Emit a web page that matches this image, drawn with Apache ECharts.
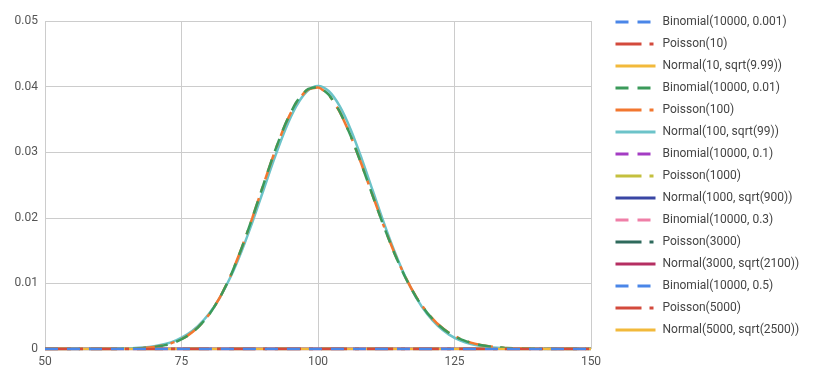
<!DOCTYPE html>
<html>
<head>
<meta charset="utf-8">
<script src="https://cdn.jsdelivr.net/npm/echarts@6/dist/echarts.min.js"></script>
<style>
html,body{margin:0;padding:0;background:#fff;}
#chart{width:814px;height:385px;}
</style>
</head>
<body>
<div id="chart"></div>
<script>
// x positions (even integers 50..150)
const xValues = [50,52,54,56,58,60,62,64,66,68,70,72,74,76,78,80,82,84,86,88,90,92,94,96,98,100,102,104,106,108,110,112,114,116,118,120,122,124,126,128,130,132,134,136,138,140,142,144,146,148,150];

// curves centred on 100
const binomial100 = [0,0,0,0,0,0.00001,0.00001,0.00003,0.00006,0.00014,0.00030,0.00059,0.00110,0.00194,0.00326,0.00516,0.00779,0.01119,0.01535,0.02006,0.02506,0.02995,0.03426,0.03757,0.03952,0.03992,0.03874,0.03616,0.03246,0.02806,0.02338,0.01879,0.01457,0.01090,0.00788,0.00551,0.00372,0.00243,0.00154,0.00094,0.00056,0.00032,0.00018,0.00010,0.00005,0.00002,0.00001,0,0,0,0];
const poisson100 = [0,0,0,0,0,0.00001,0.00001,0.00003,0.00007,0.00015,0.00031,0.00061,0.00113,0.00197,0.00329,0.00520,0.00783,0.01122,0.01536,0.02006,0.02504,0.02991,0.03421,0.03751,0.03946,0.03986,0.03869,0.03612,0.03245,0.02808,0.02342,0.01884,0.01463,0.01096,0.00794,0.00556,0.00377,0.00247,0.00157,0.00097,0.00058,0.00033,0.00019,0.00010,0.00005,0.00003,0.00001,0.00001,0,0,0];
const normal100 = [0,0,0,0,0.00001,0.00001,0.00003,0.00006,0.00012,0.00023,0.00043,0.00076,0.00132,0.00219,0.00348,0.00532,0.00781,0.01100,0.01490,0.01938,0.02420,0.02902,0.03343,0.03698,0.03929,0.04010,0.03929,0.03698,0.03343,0.02902,0.02420,0.01938,0.01490,0.01100,0.00781,0.00532,0.00348,0.00219,0.00132,0.00076,0.00043,0.00023,0.00012,0.00006,0.00003,0.00001,0.00001,0,0,0,0];
// all other distributions are flat at zero over this range
const flatZero = [0,0,0,0,0,0,0,0,0,0,0,0,0,0,0,0,0,0,0,0,0,0,0,0,0,0,0,0,0,0,0,0,0,0,0,0,0,0,0,0,0,0,0,0,0,0,0,0,0,0,0];

const seriesNames = ['Binomial(10000, 0.001)','Poisson(10)','Normal(10, sqrt(9.99))','Binomial(10000, 0.01)','Poisson(100)','Normal(100, sqrt(99))','Binomial(10000, 0.1)','Poisson(1000)','Normal(1000, sqrt(900))','Binomial(10000, 0.3)','Poisson(3000)','Normal(3000, sqrt(2100))','Binomial(10000, 0.5)','Poisson(5000)','Normal(5000, sqrt(2500))'];
const seriesValues = [flatZero,flatZero,flatZero,binomial100,poisson100,normal100,flatZero,flatZero,flatZero,flatZero,flatZero,flatZero,flatZero,flatZero,flatZero];
const seriesColors = ['#4a86e8','#d34a3c','#f2b93b','#3b9a5a','#f2772f','#6cc3c9','#a43cc3','#c4c03e','#3946a4','#ef7fa7','#2e6a5c','#b52e62','#4a86e8','#d34a3c','#f2b93b'];
const yTicks = [0,0.01,0.02,0.03,0.04,0.05];
const xTicks = [50,75,100,125,150];

const dashBinomial = [13,9];
const dashPoisson = [26,8,4,8];

const chart = echarts.init(document.getElementById('chart'), null, {renderer:'canvas'});
const series = seriesNames.map((name,i)=>{
  const kind = i % 3;
  return {
    name: name,
    type: 'line',
    data: xValues.map((x,j)=>[x, seriesValues[i][j]]),
    symbol: 'none',
    smooth: kind === 2 ? 0.3 : 0.2,
    z: 40 - i,
    lineStyle: {
      color: seriesColors[i],
      width: 2.5,
      type: kind === 0 ? dashBinomial : (kind === 1 ? dashPoisson : 'solid'),
      cap: 'butt'
    },
    itemStyle: {color: seriesColors[i]},
    emphasis: {disabled: true},
    animation: false
  };
});

chart.setOption({
  animation: false,
  textStyle: {fontFamily: 'Roboto, Arial, sans-serif'},
  grid: {left: 45, right: 223, top: 21, bottom: 36, containLabel: false},
  legend: {
    orient: 'vertical',
    left: 609,
    top: 11,
    itemWidth: 40,
    itemHeight: 12,
    itemGap: 10,
    itemStyle: {opacity: 0},
    lineStyle: {width: 3},
    textStyle: {fontSize: 12, color: '#444', fontFamily: 'Roboto, Arial, sans-serif', padding: [0,0,0,2]},
    data: seriesNames,
    selectedMode: false
  },
  xAxis: {
    type: 'value',
    min: xTicks[0],
    max: xTicks[xTicks.length-1],
    interval: 25,
    axisLine: {show: false},
    axisTick: {show: false},
    splitLine: {show: true, lineStyle: {color: '#cccccc', width: 1}},
    axisLabel: {color: '#555', fontSize: 12, margin: 7, formatter: v => xTicks.includes(v) ? String(v) : ''}
  },
  yAxis: {
    type: 'value',
    min: yTicks[0],
    max: yTicks[yTicks.length-1],
    interval: 0.01,
    axisLine: {show: false},
    axisTick: {show: false},
    splitLine: {show: true, lineStyle: {color: '#cccccc', width: 1}},
    axisLabel: {color: '#555', fontSize: 12, margin: 7, formatter: v => { const t = yTicks.find(k=>Math.abs(k-v)<1e-9); return t === undefined ? '' : String(t); }}
  },
  series: series
});
</script>
</body>
</html>
